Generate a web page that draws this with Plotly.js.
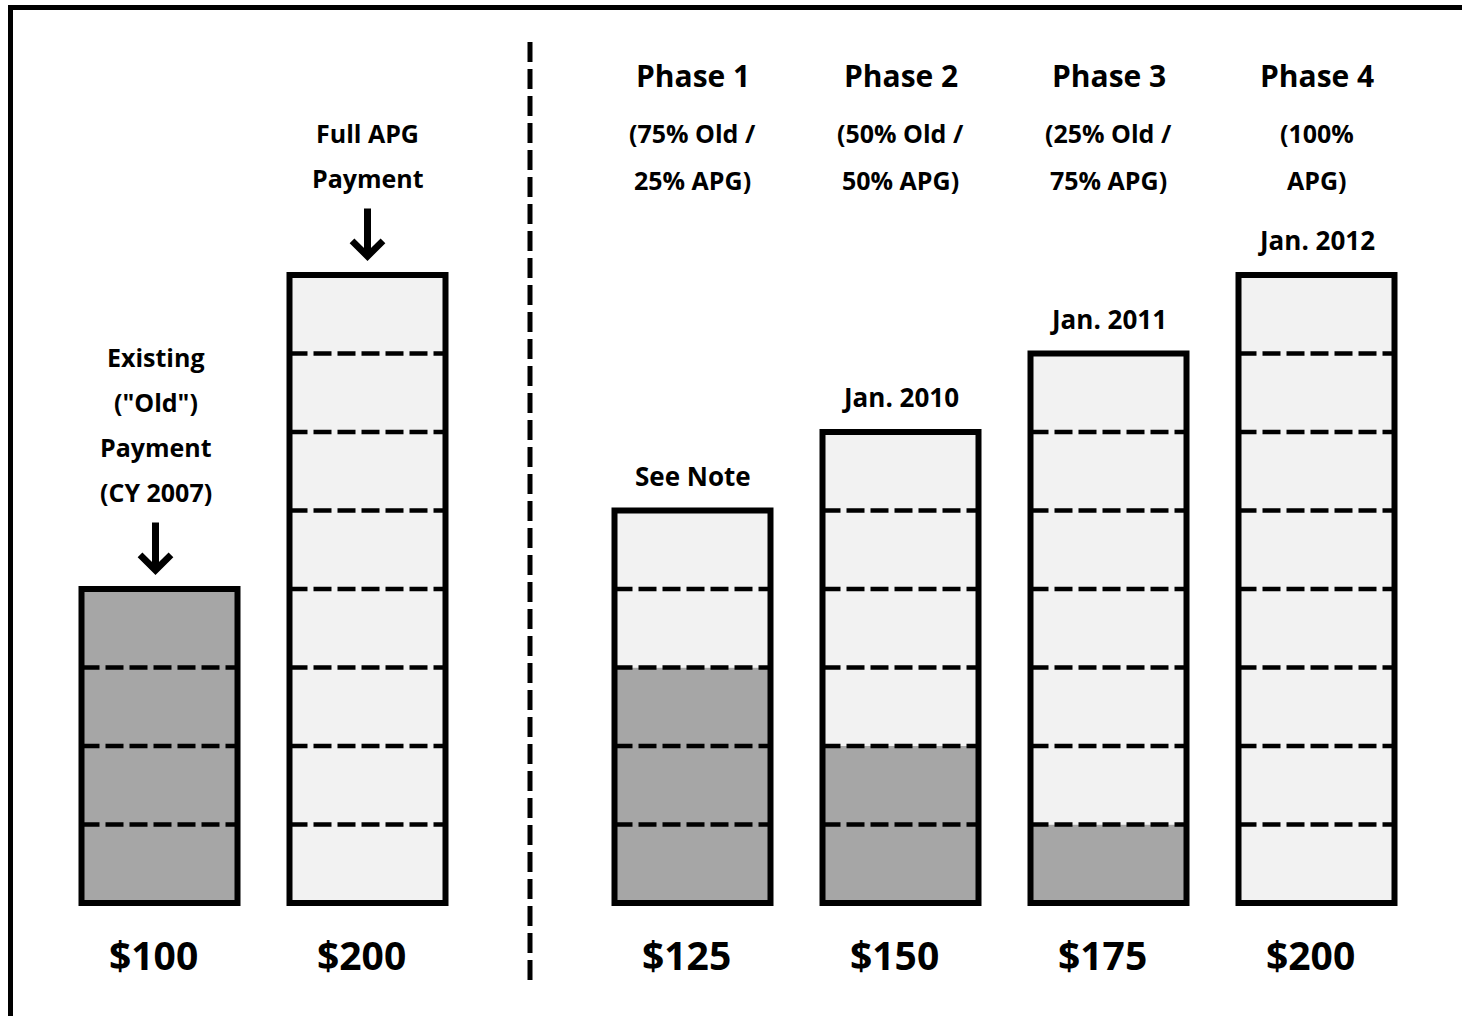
<!DOCTYPE html>
<html>
<head>
<meta charset="utf-8">
<script src="https://cdn.plot.ly/plotly-3.0.1.min.js"></script>
<style>
  html, body { margin: 0; padding: 0; background: #ffffff; }
  #chart { width: 1462px; height: 1016px; }
</style>
</head>
<body>
<div id="chart"></div>
<script>
// ---------------- DATA ----------------
const categories   = ['Existing', 'Full APG', 'Phase 1', 'Phase 2', 'Phase 3', 'Phase 4'];
const totals       = [100, 200, 125, 150, 175, 200];
const oldPortion   = [100, 0, 75, 50, 25, 0];
const apgPortion   = [0, 200, 50, 100, 150, 200];
const segmentSize  = 25;
const valueLabels  = ['$100', '$200', '$125', '$150', '$175', '$200'];
const dateNotes    = ['', '', 'See Note', 'Jan. 2010', 'Jan. 2011', 'Jan. 2012'];
const phaseTitles  = ['Phase 1', 'Phase 2', 'Phase 3', 'Phase 4'];
const phaseLine1   = ['(75% Old /', '(50% Old /', '(25% Old /', '(100%'];
const phaseLine2   = ['25% APG)', '50% APG)', '75% APG)', 'APG)'];
const existingText = ['Existing', '("Old")', 'Payment', '(CY 2007)'];
const fullApgText  = ['Full APG', 'Payment'];

// ---------------- LAYOUT HELPERS ----------------
const GROUP_GAP = 0.5625;              // extra space between baseline group and phases
const BAR_W = 0.75;
const xPos = categories.map((c, i) => i + (i >= 2 ? GROUP_GAP : 0));
const FONT = '"Open Sans", Lato, sans-serif';
const DARK = '#a6a6a6';
const LIGHT = '#f2f2f2';

// dashed divider lines inside each bar at every segment boundary
const dashX = [], dashY = [];
totals.forEach((t, i) => {
  for (let v = segmentSize; v < t; v += segmentSize) {
    dashX.push(xPos[i] - BAR_W / 2, xPos[i] + BAR_W / 2, null);
    dashY.push(v, v, null);
  }
});

const traces = [
  { type: 'bar', x: xPos, y: oldPortion, base: 0, width: BAR_W,
    marker: { color: DARK, line: { width: 0 } }, hoverinfo: 'skip', name: 'Old' },
  { type: 'bar', x: xPos, y: apgPortion, base: oldPortion, width: BAR_W,
    marker: { color: LIGHT, line: { width: 0 } }, hoverinfo: 'skip', name: 'APG' },
  { type: 'bar', x: xPos, y: totals, base: 0, width: BAR_W,
    marker: { color: 'rgba(0,0,0,0)', line: { color: '#000', width: 6 } },
    hoverinfo: 'skip', name: 'Total' },
  { type: 'scatter', mode: 'lines', x: dashX, y: dashY, connectgaps: false,
    line: { color: '#000', width: 4.5, dash: '18px,6px' }, hoverinfo: 'skip' }
];

const annotations = [];
const txt = (size) => ({ family: FONT, size: size, color: '#000', weight: 700 });

// value labels below bars
valueLabels.forEach((lab, i) => annotations.push({
  x: xPos[i], y: 0, xref: 'x', yref: 'y', text: lab, showarrow: false,
  yanchor: 'middle', yshift: -51, xshift: -6, font: txt(39)
}));

// date notes above bars
dateNotes.forEach((lab, i) => { if (lab) annotations.push({
  x: xPos[i], y: totals[i], xref: 'x', yref: 'y', text: lab, showarrow: false,
  yanchor: 'middle', yshift: 35, font: txt(26)
}); });

// phase headers (fixed row at top)
const pyToPaper = (py) => 1 - py / 1016;
phaseTitles.forEach((lab, k) => {
  const xi = xPos[k + 2];
  annotations.push({ x: xi, y: pyToPaper(76), xref: 'x', yref: 'paper', text: lab,
    showarrow: false, yanchor: 'middle', font: txt(30) });
  annotations.push({ x: xi, y: pyToPaper(133), xref: 'x', yref: 'paper', text: phaseLine1[k],
    showarrow: false, yanchor: 'middle', font: txt(25) });
  annotations.push({ x: xi, y: pyToPaper(180), xref: 'x', yref: 'paper', text: phaseLine2[k],
    showarrow: false, yanchor: 'middle', font: txt(25) });
});

// stacked labels with arrows above the first two bars
function labelStack(lines, i, xshift) {
  const n = lines.length;
  lines.forEach((lab, k) => annotations.push({
    x: xPos[i], y: totals[i], xref: 'x', yref: 'y', text: lab, showarrow: false,
    yanchor: 'middle', xshift: xshift, yshift: 97 + 45 * (n - 1 - k), font: txt(25)
  }));
  annotations.push({
    x: xPos[i], y: totals[i], xref: 'x', yref: 'y', text: '', showarrow: true,
    ax: 0, ay: -68, xshift: xshift, standoff: 14,
    arrowhead: 4, arrowsize: 0.85, arrowwidth: 7, arrowcolor: '#000'
  });
}
labelStack(existingText, 0, -4);
labelStack(fullApgText, 1, 0);

// frame + vertical dashed divider
const dividerX = (xPos[1] + xPos[2]) / 2;
const shapes = [
  { type: 'line', xref: 'paper', yref: 'paper', x0: 8 / 1462, x1: 1, y0: pyToPaper(7.5), y1: pyToPaper(7.5),
    line: { color: '#000', width: 5 } },
  { type: 'line', xref: 'paper', yref: 'paper', x0: 10.5 / 1462, x1: 10.5 / 1462, y0: pyToPaper(5), y1: 0,
    line: { color: '#000', width: 5 } },
  { type: 'line', xref: 'x', yref: 'paper', x0: dividerX, x1: dividerX, y0: pyToPaper(42), y1: pyToPaper(983),
    line: { color: '#000', width: 5, dash: '20px,7px' } }
];

const PX_PER_UNIT_Y = 3.14, ZERO_PY = 903;
const layout = {
  width: 1462, height: 1016,
  margin: { l: 0, r: 0, t: 0, b: 0, pad: 0 },
  paper_bgcolor: '#ffffff', plot_bgcolor: '#ffffff',
  barmode: 'overlay', showlegend: false,
  xaxis: { range: [-159.5 / 208, (1462 - 159.5) / 208], visible: false, fixedrange: true },
  yaxis: { range: [-(1016 - ZERO_PY) / PX_PER_UNIT_Y, ZERO_PY / PX_PER_UNIT_Y], visible: false, fixedrange: true },
  annotations: annotations,
  shapes: shapes,
  font: { family: FONT }
};

Plotly.newPlot('chart', traces, layout, { displayModeBar: false, staticPlot: true });
</script>
</body>
</html>
